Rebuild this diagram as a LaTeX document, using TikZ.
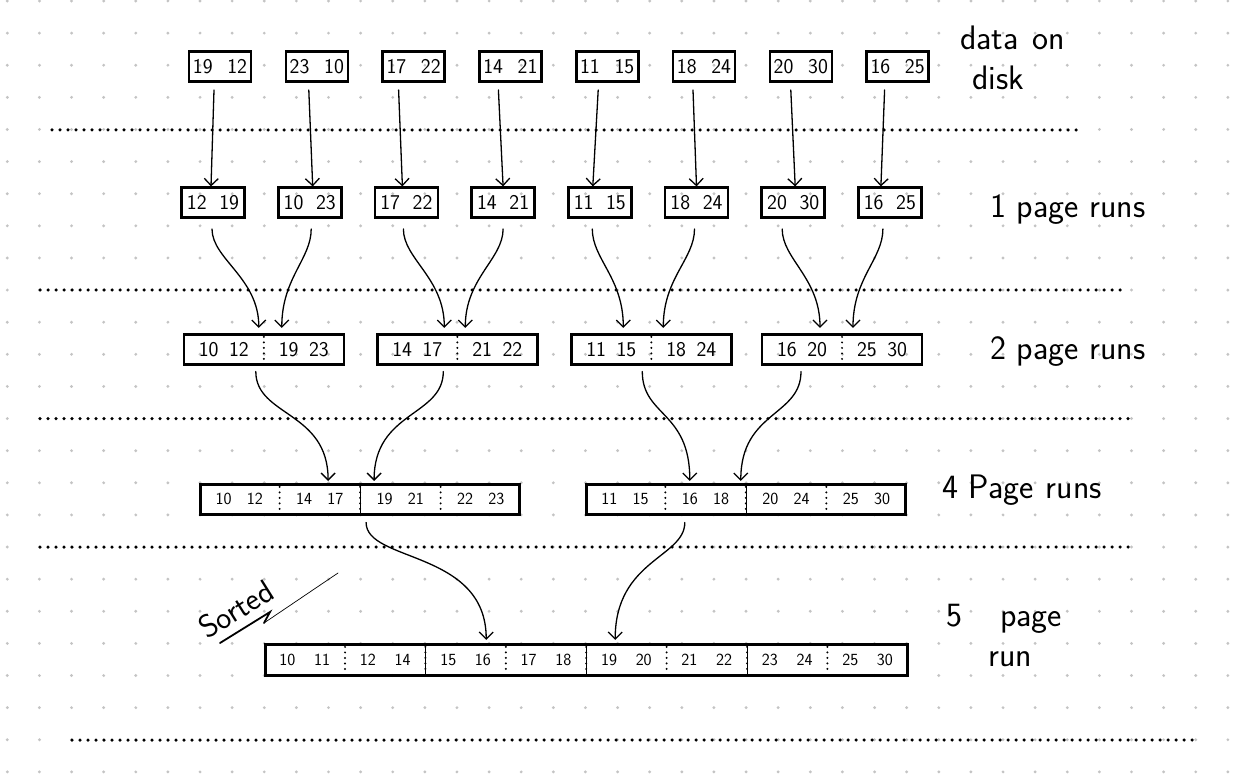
\documentclass[tikz,border=0pt]{standalone}
\usepackage{fontspec}
\usepackage{tikz}
\usetikzlibrary{
  arrows.meta,%
  calc,%
  positioning
}
\definecolor{griddot}{RGB}{196,196,196}
\tikzset{>={Straight Barb[length=7pt,width=14pt]}}
\tikzset{font=\sffamily}
\tikzset{
  page/.style={draw, line width=2.6pt, minimum width=62pt, minimum height=30pt,
    inner sep=0pt, font=\sffamily\fontsize{21}{24}\selectfont},
  run/.style={draw, line width=2.6pt, minimum height=30pt, inner sep=0pt},
  cell/.style={inner sep=0pt, font=\sffamily\fontsize{21}{24}\selectfont},
  smallcell/.style={cell, font=\sffamily\fontsize{17}{20}\selectfont},
  flow/.style={->, line width=1.3pt, line cap=round},
  rowsep/.style={line width=3.5pt, line cap=round, dash pattern=on 0pt off 8pt},
  cellsep/.style={line width=2.2pt, line cap=round, dash pattern=on 0pt off 5.5pt},
  lbl/.style={inner sep=0pt, anchor=west,
    font=\sffamily\fontsize{34}{40}\selectfont\addfontfeature{LetterSpace=10}},
}
\newcommand{\nums}[3][0.8em]{#2\hspace{#1}#3}

\begin{document}
\begin{tikzpicture}[x=1pt, y=-1pt]
  \useasboundingbox (0,0) rectangle (1235,778);
  % dotted paper
  \foreach \i in {0,...,38}
    \foreach \j in {0,...,24}
      \fill[griddot] (7.3+32.12*\i, 1+32.12*\j) circle (1.6pt);

  % level separators
  \draw[rowsep] (52,130) -- (1080,130);
  \draw[rowsep] (40,290) -- (1120,290);
  \draw[rowsep] (40,418.6) -- (1130,418.6);
  \draw[rowsep] (40,547) -- (1130,547);
  \draw[rowsep] (72,740) -- (1192,740);

  % data on disk
  \foreach \lo/\hi [count=\k] in {19/12, 23/10, 17/22, 14/21, 11/15, 18/24, 20/30, 16/25}
    \node[page] (disk\k) at (123.2+96.8*\k, 66.7) {\nums[0.7em]{\lo}{\hi}};

  % 1 page runs
  \foreach \lo/\hi [count=\k] in {12/19, 10/23, 17/22, 14/21, 11/15, 18/24, 20/30, 16/25}
    \node[page, minimum width=63pt] (one\k) at (116.3+96.7*\k, 202.7) {\nums[0.6em]{\lo}{\hi}};

  % 2 page runs
  \foreach \cx/\pa/\pb/\pc/\pd [count=\k] in {263.8/10/12/19/23, 457.3/14/17/21/22,
      651.3/11/15/18/24, 842/16/20/25/30} {
    \node[run, minimum width=160pt] (two\k) at (\cx, 349.2) {};
    \node[cell] at ([xshift=-40pt]two\k.center) {\nums[0.5em]{\pa}{\pb}};
    \node[cell] at ([xshift=40pt]two\k.center) {\nums[0.5em]{\pc}{\pd}};
    \draw[cellsep] ([yshift=-4pt]two\k.north) -- ([yshift=4pt]two\k.south);
  }

  % 4 page runs
  \node[run, minimum width=319pt] (four1) at (360.1, 499.2) {};
  \node[run, minimum width=319pt] (four2) at (745.8, 499.2) {};
  \foreach \lo/\hi [count=\k] in {10/12, 14/17, 19/21, 22/23}
    \node[smallcell] at ([xshift={80.5*(\k-2.5)}]four1.center) {\nums[0.9em]{\lo}{\hi}};
  \foreach \lo/\hi [count=\k] in {11/15, 16/18, 20/24, 25/30}
    \node[smallcell] at ([xshift={80.5*(\k-2.5)}]four2.center) {\nums[0.9em]{\lo}{\hi}};
  \foreach \runbox in {four1, four2} {
    \foreach \k in {-1,0,1}
      \draw[cellsep] ([xshift={80.5*\k}, yshift=-4pt]\runbox.north) -- ([xshift={80.5*\k}, yshift=4pt]\runbox.south);
    \draw[line width=0.6pt] (\runbox.north) -- (\runbox.south);
  }

  % merged run
  \node[run, minimum width=642pt, minimum height=31pt] (merged) at (586.2, 659.7) {};
  \foreach \lo/\hi [count=\k] in {10/11, 12/14, 15/16, 17/18, 19/20, 21/22, 23/24, 25/30}
    \node[smallcell] at ([xshift={80.4*(\k-4.5)}]merged.center) {\nums[1.1em]{\lo}{\hi}};
  \foreach \k in {1,...,7}
    \draw[cellsep] ([xshift={80.4*(\k-4)}, yshift=-4pt]merged.north) -- ([xshift={80.4*(\k-4)}, yshift=4pt]merged.south);
  \foreach \k in {2,4,6}
    \draw[line width=0.6pt] ([xshift={80.4*(\k-4)}]merged.north) -- ([xshift={80.4*(\k-4)}]merged.south);

  % arrows between levels
  \foreach \k/\s/\e in {1/-6/-2, 2/-8/3, 3/-15/-4, 4/-12/0, 5/-9/-7, 6/-11/0, 7/-10/2, 8/-13/-9}
    \draw[flow] ([xshift=\s, yshift=-7pt]disk\k.south) -- ([xshift=\e]one\k.north);
  \foreach \k/\s/\m/\e in {1/-1/1/-5, 2/1.5/1/18, 3/-3/2/-13, 4/0/2/8,
      5/-7.5/3/-28, 6/-2/3/12, 7/-11/4/-22, 8/-7/4/11}
    \draw[flow] ([xshift=\s, yshift=-10pt]one\k.south)
      .. controls +(0,30) and +(0,-50) .. ([xshift=\e, yshift=5pt]two\m.north);
  \foreach \k/\s/\m/\e in {1/-8/1/-32, 2/-14/1/14, 3/-9/2/-56, 4/-41/2/-5}
    \draw[flow] ([xshift=\s, yshift=-6pt]two\k.south)
      .. controls +(0,45) and +(0,-70) .. ([xshift=\e, yshift=2pt]four\m.north);
  \draw[flow] ([xshift=6, yshift=-7pt]four1.south)
    .. controls +(0,40) and +(0,-90) .. ([xshift=-100, yshift=3pt]merged.north);
  \draw[flow] ([xshift=-61, yshift=-7pt]four2.south)
    .. controls +(0,35) and +(0,-80) .. ([xshift=29, yshift=3pt]merged.north);

  % level labels
  \node[lbl, anchor=north west, align=left] (disklbl) at (960,26) {data\hspace{14pt}on\\\hspace{12pt}disk};
  \node[lbl] (onelbl) at (990,210) {1 page runs};
  \node[lbl] (twolbl) at (990,352) {2 page runs};
  \node[lbl] (fourlbl) at (942,490) {4 Page\hspace{12pt}runs};
  \node[lbl, anchor=north west, align=left] (mergedlbl) at (946,604) {5\hspace{38pt}page\\\hspace{42pt}run};

  % sorted note
  \node[lbl, anchor=center, rotate=32,
    font=\sffamily\fontsize{32}{36}\selectfont\addfontfeature{LetterSpace=14}] (sorted) at (236,609) {Sorted};
  \draw[line width=1.8pt, line cap=round] (220,643) -- (270,612) -- (264,623);
  \draw[line width=0.7pt, line cap=round] (264,623) -- (338,573);
\end{tikzpicture}
\end{document}
